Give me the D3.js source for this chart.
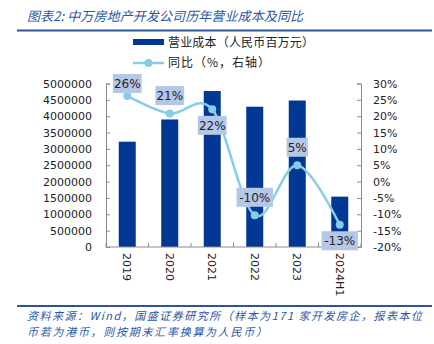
<!DOCTYPE html>
<html><head><meta charset="utf-8">
<script src="https://cdn.jsdelivr.net/npm/d3@7"></script>
<style>body{margin:0;background:#fff}svg{display:block}</style>
</head><body>
<script>
const categories = ["2019","2020","2021","2022","2023","2024H1"];
const costValues = [3220000, 3900000, 4770000, 4290000, 4480000, 1540000];
const yoyValues = [26.2, 20.8, 22.1, -10.3, 5.0, -13.2];
const yoyLabels = ["26%","21%","22%","-10%","5%","-13%"];
const labelSide = ["above","above","below","above","above","below"];
const leftTicks = [0,500000,1000000,1500000,2000000,2500000,3000000,3500000,4000000,4500000,5000000];
const rightTicks = [-20,-15,-10,-5,0,5,10,15,20,25,30];
const titleText = "图表2:  中万房地产开发公司历年营业成本及同比";
const legendNames = ["营业成本（人民币百万元）","同比（%，右轴）"];
const sourceLines = ["资料来源：Wind，国盛证券研究所（样本为171 家开发房企，报表本位","币若为港币，则按期末汇率换算为人民币）"];

const W=434,H=344;
const svg=d3.select("body").append("svg").attr("width",W).attr("height",H);
const CJK="'Noto Sans CJK SC','Noto Sans',sans-serif";
const NUM="'DejaVu Sans',Verdana,sans-serif";
const blueText="#2A56A6";
const barColor="#003893";
const lineColor="#87CDE8";
const boxColor="#B4C7E7";

// title
svg.append("text").attr("x",27).attr("y",21).attr("font-family",CJK).attr("font-size",13)
  .attr("font-style","italic").attr("fill",blueText).attr("textLength",276).text(titleText);
svg.append("line").attr("x1",17).attr("x2",432).attr("y1",30.5).attr("y2",30.5)
  .attr("stroke","#2E5597").attr("stroke-width",2);

// scales
const x=d3.scaleBand().domain(categories).range([106,361]).paddingInner(0.6).paddingOuter(0.3);
const yL=d3.scaleLinear().domain([0,5000000]).range([247,83.5]);
const yR=d3.scaleLinear().domain([-20,30]).range([247,83.5]);

// bars
svg.append("g").selectAll("rect").data(costValues).join("rect")
  .attr("x",(d,i)=>x(categories[i])).attr("width",x.bandwidth())
  .attr("y",d=>yL(d)).attr("height",d=>yL(0)-yL(d)).attr("fill",barColor);

// axes
const axisColor="#8c8c8c";
const gl=svg.append("g").attr("transform","translate(106,0)")
  .call(d3.axisLeft(yL).tickValues(leftTicks).tickSize(-4).tickPadding(14).tickFormat(d3.format("d")));
const gr=svg.append("g").attr("transform","translate(361,0)")
  .call(d3.axisRight(yR).tickValues(rightTicks).tickSize(-4).tickPadding(12).tickFormat(d=>d+"%"));
const bandStep=x.step();
const boundaries=d3.range(categories.length+1).map(i=>106+i*bandStep);
const gx=svg.append("g").attr("transform","translate(0,247)");
gx.append("line").attr("x1",106).attr("x2",361).attr("stroke",axisColor);
gx.selectAll(".tk").data(boundaries).join("line").attr("x1",d=>d).attr("x2",d=>d).attr("y1",0).attr("y2",-4).attr("stroke",axisColor);
gx.selectAll("text").data(categories).join("text")
  .attr("transform",d=>`translate(${x(d)+x.bandwidth()/2-4},6) rotate(90)`)
  .attr("font-family",NUM).attr("font-size",11).attr("fill","#222").attr("text-anchor","start")
  .text(d=>d);
[gl,gr].forEach(g=>{
  g.selectAll("path,line").attr("stroke",axisColor);
  g.selectAll("text").attr("font-family",NUM).attr("font-size",11).attr("fill","#222");
});

// line
const pts=yoyValues.map((v,i)=>[x(categories[i])+x.bandwidth()/2,yR(v)]);
svg.append("path").datum(pts).attr("d",d3.line().curve(d3.curveCatmullRom.alpha(0)))
  .attr("fill","none").attr("stroke",lineColor).attr("stroke-width",2.5);
svg.append("g").selectAll("circle").data(pts).join("circle")
  .attr("cx",d=>d[0]).attr("cy",d=>d[1]).attr("r",4).attr("fill",lineColor);

// labels
const lg=svg.append("g");
pts.forEach((p,i)=>{
  const t=yoyLabels[i];
  const w=t.length*7.6+6;
  const h=19;
  let cy=labelSide[i]==="above"?p[1]-18:p[1]+16;
  if(cy-h/2<74) cy=74+h/2;
  lg.append("rect").attr("x",p[0]-w/2).attr("y",cy-h/2).attr("width",w).attr("height",h).attr("fill",boxColor);
  lg.append("text").attr("x",p[0]).attr("y",cy+4.5).attr("text-anchor","middle")
    .attr("font-family",NUM).attr("font-size",12).attr("fill","#222").text(t);
});

// legend
svg.append("rect").attr("x",133).attr("y",39).attr("width",31).attr("height",6).attr("fill",barColor);
svg.append("text").attr("x",168).attr("y",47).attr("font-family",CJK).attr("font-size",12).attr("fill","#222")
  .attr("textLength",146).text(legendNames[0]);
svg.append("line").attr("x1",133).attr("x2",164).attr("y1",63).attr("y2",63).attr("stroke",lineColor).attr("stroke-width",2.5);
svg.append("circle").attr("cx",148.5).attr("cy",63).attr("r",4).attr("fill",lineColor);
svg.append("text").attr("x",168).attr("y",67).attr("font-family",CJK).attr("font-size",12).attr("fill","#222")
  .attr("textLength",102).text(legendNames[1]);

// footer
svg.append("line").attr("x1",17).attr("x2",432).attr("y1",306).attr("y2",306).attr("stroke","#2E5597").attr("stroke-width",2);
const footLens=[395,240];
sourceLines.forEach((s,i)=>{
  svg.append("text").attr("x",27).attr("y",320+i*16).attr("font-family",CJK).attr("font-size",11)
    .attr("font-style","italic").attr("fill",blueText).attr("textLength",footLens[i]).text(s);
});
</script>
</body></html>
